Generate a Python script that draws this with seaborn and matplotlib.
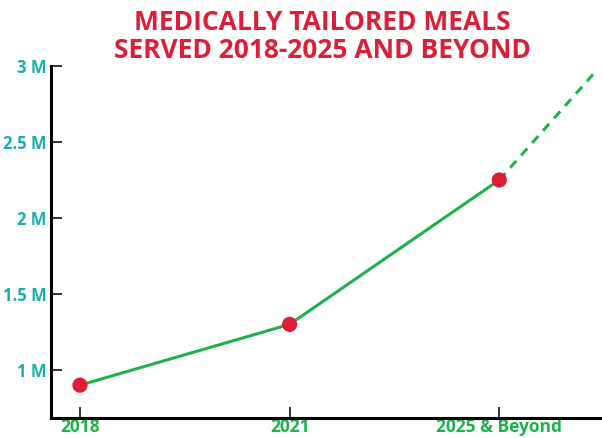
import seaborn as sns
import matplotlib.pyplot as plt
import pandas as pd

sns.set_style("white")
plt.rcParams['font.family'] = ['Open Sans', 'DejaVu Sans']

# data
years = ["2018", "2021", "2025 & Beyond"]
meals = [0.90, 1.30, 2.25]          # millions
proj_x = [2, 2.47]                  # projection beyond 2025
proj_y = [2.25, 2.98]

df = pd.DataFrame({"pos": range(len(years)), "meals": meals})
proj = pd.DataFrame({"pos": proj_x, "meals": proj_y})

green = "#1db24a"
red = "#dc1f36"
teal = "#1aadb0"

fig = plt.figure(figsize=(6.02, 4.38), dpi=100)
ax = fig.add_axes([51/602, 20/438, 551/602, 352/438])

sns.lineplot(data=df, x="pos", y="meals", color=green, linewidth=2.2, ax=ax)
sns.lineplot(data=proj, x="pos", y="meals", color=green, linewidth=2.2,
             linestyle=(0, (3, 2.4)), ax=ax)
sns.scatterplot(data=df, x="pos", y="meals", color=red, s=120,
                edgecolor="none", zorder=5, ax=ax)

ax.set_xlim(-0.138, 2.49)
ax.set_ylim(0.684, 3.0)
ax.set_xticks(range(len(years)))
ax.set_xticklabels(years)
ax.set_yticks([1, 1.5, 2, 2.5, 3])
ax.set_yticklabels(["1 M", "1.5 M", "2 M", "2.5 M", "3 M"])
ax.set_xlabel("")
ax.set_ylabel("")

for s in ["top", "right"]:
    ax.spines[s].set_visible(False)
for s in ["left", "bottom"]:
    ax.spines[s].set_color("black")
    ax.spines[s].set_linewidth(2.2)

ax.tick_params(axis="both", direction="in", length=8, width=1.3, color="#222222",
               bottom=True, left=True)
ax.tick_params(axis="x", labelcolor=green, labelsize=12.5, pad=0)
ax.tick_params(axis="y", labelcolor=teal, labelsize=12, pad=3)
for lbl in ax.get_xticklabels() + ax.get_yticklabels():
    lbl.set_fontweight("bold")

fig.text(0.535, 0.98, "MEDICALLY TAILORED MEALS\nSERVED 2018-2025 AND BEYOND",
         ha="center", va="top", color=red, fontsize=19, fontweight="bold",
         linespacing=1.05)

fig.savefig("out.png", dpi=100)
